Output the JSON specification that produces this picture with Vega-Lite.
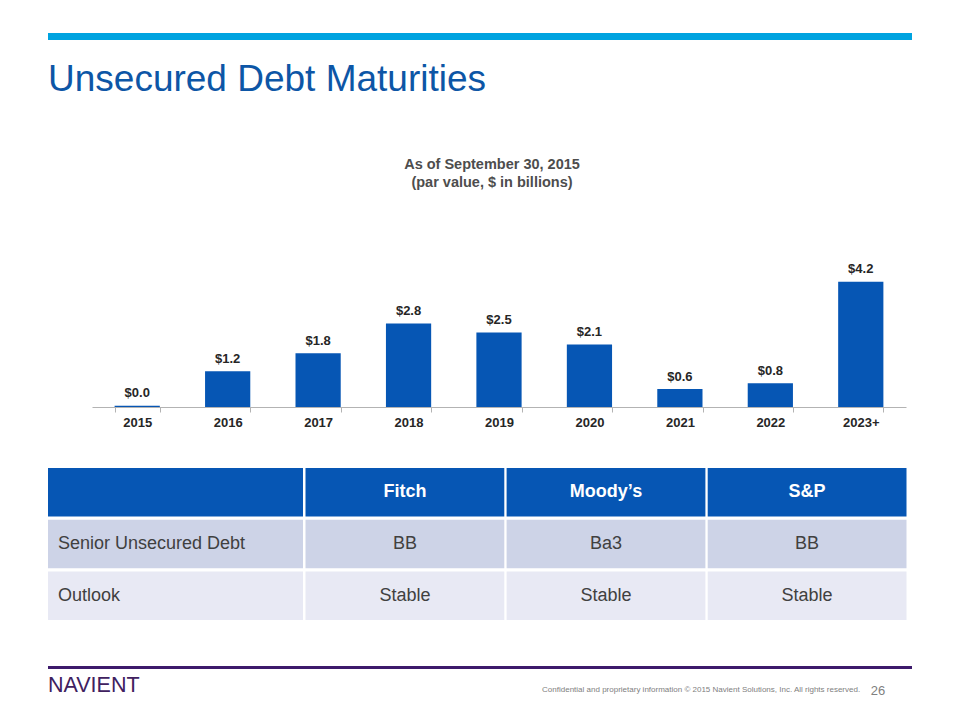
{
  "$schema": "https://vega.github.io/schema/vega-lite/v6.json",
  "background": "white",
  "padding": {"left": 48, "top": 33, "right": 48, "bottom": 0},
  "config": {
    "font": "Liberation Sans",
    "view": {"stroke": null},
    "axis": {"labelFont": "Liberation Sans"}
  },
  "datasets": {
    "maturities": [
      {"year": "2015", "value": 0.04},
      {"year": "2016", "value": 1.2},
      {"year": "2017", "value": 1.8},
      {"year": "2018", "value": 2.8},
      {"year": "2019", "value": 2.5},
      {"year": "2020", "value": 2.1},
      {"year": "2021", "value": 0.6},
      {"year": "2022", "value": 0.8},
      {"year": "2023+", "value": 4.2}
    ],
    "tableLabels": [
      {"row": "Agency", "col": "label", "text": ""},
      {"row": "Senior Unsecured Debt", "col": "label", "text": "Senior Unsecured Debt"},
      {"row": "Outlook", "col": "label", "text": "Outlook"}
    ],
    "ratings": [
      {"row": "Agency", "agency": "Fitch", "text": "Fitch"},
      {"row": "Agency", "agency": "Moody’s", "text": "Moody’s"},
      {"row": "Agency", "agency": "S&P", "text": "S&P"},
      {"row": "Senior Unsecured Debt", "agency": "Fitch", "text": "BB"},
      {"row": "Senior Unsecured Debt", "agency": "Moody’s", "text": "Ba3"},
      {"row": "Senior Unsecured Debt", "agency": "S&P", "text": "BB"},
      {"row": "Outlook", "agency": "Fitch", "text": "Stable"},
      {"row": "Outlook", "agency": "Moody’s", "text": "Stable"},
      {"row": "Outlook", "agency": "S&P", "text": "Stable"}
    ],
    "footer": [
      {"item": "logo", "text": "NAVIENT"},
      {"item": "notice", "text": "Confidential and proprietary information © 2015 Navient Solutions, Inc. All rights reserved."},
      {"item": "page", "text": "26"}
    ],
    "decor": [{"part": "line"}],
    "empty": []
  },
  "columns": 1,
  "align": "none",
  "spacing": 58,
  "concat": [
    {
      "width": 864,
      "height": 7,
      "title": {
        "text": "Unsecured Debt Maturities",
        "orient": "bottom",
        "anchor": "start",
        "offset": 22,
        "fontSize": 37,
        "fontWeight": "normal",
        "color": "#0d56a6",
        "font": "Liberation Sans"
      },
      "data": {"name": "decor"},
      "mark": {"type": "rect", "color": "#00a3e0"},
      "encoding": {
        "x": {"datum": 0, "type": "quantitative", "scale": {"domain": [0, 1], "nice": false, "zero": false}, "axis": null},
        "x2": {"datum": 1},
        "y": {"datum": 0, "type": "quantitative", "scale": {"domain": [0, 1], "nice": false, "zero": false}, "axis": null},
        "y2": {"datum": 1}
      }
    },
    {
      "columns": 1,
      "align": "none",
      "spacing": 46,
      "concat": [
        {
          "columns": 1,
          "align": "none",
          "spacing": 39,
          "concat": [
            {
              "spacing": 43,
              "hconcat": [
                {
                  "width": 1,
                  "height": 149,
                  "data": {"name": "empty"},
                  "mark": "point"
                },
                {
                  "width": 814,
                  "height": 149,
                  "data": {"name": "maturities"},
                  "title": {
                    "text": ["As of September 30, 2015", "(par value, $ in billions)"],
                    "fontSize": 14.5,
                    "fontWeight": "bold",
                    "color": "#4d4d4d",
                    "lineHeight": 18,
                    "offset": 68,
                    "frame": "group",
                    "anchor": "middle",
                    "dx": -7
                  },
                  "encoding": {
                    "x": {
                      "field": "year", "type": "nominal", "sort": null,
                      "scale": {"paddingInner": 0.5, "paddingOuter": 0.25},
                      "axis": {
                        "title": null, "labelAngle": 0, "labelFontSize": 13, "labelFontWeight": "bold",
                        "labelColor": "#262626", "domainColor": "#b3b3b3", "tickColor": "#b3b3b3",
                        "tickSize": 5, "labelPadding": 4, "tickBand": "extent"
                      }
                    },
                    "y": {
                      "field": "value", "type": "quantitative",
                      "scale": {"domain": [0, 5], "nice": false},
                      "axis": null
                    }
                  },
                  "layer": [
                    {"mark": {"type": "bar", "color": "#0656b4"}},
                    {
                      "mark": {"type": "text", "baseline": "alphabetic", "dy": -8.5, "fontSize": 13, "fontWeight": "bold", "color": "#262626"},
                      "encoding": {"text": {"field": "value", "type": "quantitative", "format": "$.1f"}}
                    }
                  ]
                }
              ]
            },
            {
              "spacing": 2.5,
              "hconcat": [
                {
                  "width": 255,
                  "height": 152,
                  "data": {"name": "tableLabels"},
                  "encoding": {
                    "y": {"field": "row", "type": "nominal", "sort": ["Agency", "Senior Unsecured Debt", "Outlook"], "scale": {"paddingInner": 0.06, "paddingOuter": 0}, "axis": null},
                    "x": {"field": "col", "type": "nominal", "scale": {"paddingInner": 0, "paddingOuter": 0}, "axis": null}
                  },
                  "layer": [
                    {
                      "mark": {"type": "rect"},
                      "encoding": {
                        "color": {"field": "row", "type": "nominal", "scale": {"domain": ["Agency", "Senior Unsecured Debt", "Outlook"], "range": ["#0656b4", "#cdd3e7", "#e8e9f4"]}, "legend": null}
                      }
                    },
                    {
                      "mark": {"type": "text", "align": "left", "dx": 10, "fontSize": 18, "color": "#404040"},
                      "encoding": {
                        "x": {"field": "col", "type": "nominal", "bandPosition": 0},
                        "text": {"field": "text"}
                      }
                    }
                  ]
                },
                {
                  "width": 601,
                  "height": 152,
                  "data": {"name": "ratings"},
                  "encoding": {
                    "y": {"field": "row", "type": "nominal", "sort": ["Agency", "Senior Unsecured Debt", "Outlook"], "scale": {"paddingInner": 0.06, "paddingOuter": 0}, "axis": null},
                    "x": {"field": "agency", "type": "nominal", "sort": ["Fitch", "Moody’s", "S&P"], "scale": {"paddingInner": 0.0115, "paddingOuter": 0}, "axis": null}
                  },
                  "layer": [
                    {
                      "mark": {"type": "rect"},
                      "encoding": {
                        "color": {"field": "row", "type": "nominal", "scale": {"domain": ["Agency", "Senior Unsecured Debt", "Outlook"], "range": ["#0656b4", "#cdd3e7", "#e8e9f4"]}, "legend": null}
                      }
                    },
                    {
                      "transform": [{"filter": "datum.row === 'Agency'"}],
                      "mark": {"type": "text", "fontSize": 18, "fontWeight": "bold", "color": "#ffffff"},
                      "encoding": {"text": {"field": "text"}}
                    },
                    {
                      "transform": [{"filter": "datum.row !== 'Agency'"}],
                      "mark": {"type": "text", "fontSize": 18, "color": "#404040"},
                      "encoding": {"text": {"field": "text"}}
                    }
                  ]
                }
              ]
            }
          ]
        },
        {
          "width": 864,
          "height": 30,
          "data": {"name": "footer"},
          "layer": [
            {
              "data": {"name": "decor"},
              "mark": {"type": "rect", "color": "#3d1a6b"},
              "encoding": {
                "x": {"datum": 0, "type": "quantitative", "scale": {"domain": [0, 1], "nice": false, "zero": false}, "axis": null},
                "x2": {"datum": 1},
                "y": {"datum": 1, "type": "quantitative", "scale": {"domain": [0, 1], "nice": false, "zero": false}, "axis": null},
                "y2": {"datum": 0.9}
              }
            },
            {
              "transform": [{"filter": "datum.item === 'logo'"}],
              "mark": {"type": "text", "align": "left", "baseline": "alphabetic", "fontSize": 21.5, "color": "#40215f"},
              "encoding": {
                "x": {"datum": 0, "type": "quantitative"},
                "y": {"datum": 0.14, "type": "quantitative"},
                "text": {"field": "text"}
              }
            },
            {
              "transform": [{"filter": "datum.item === 'notice'"}],
              "mark": {"type": "text", "align": "right", "baseline": "alphabetic", "fontSize": 8, "color": "#808080"},
              "encoding": {
                "x": {"datum": 0.94, "type": "quantitative"},
                "y": {"datum": 0.13, "type": "quantitative"},
                "text": {"field": "text"}
              }
            },
            {
              "transform": [{"filter": "datum.item === 'page'"}],
              "mark": {"type": "text", "align": "right", "baseline": "alphabetic", "fontSize": 13, "color": "#808080"},
              "encoding": {
                "x": {"datum": 0.969, "type": "quantitative"},
                "y": {"datum": 0.04, "type": "quantitative"},
                "text": {"field": "text"}
              }
            }
          ]
        }
      ]
    }
  ]
}
